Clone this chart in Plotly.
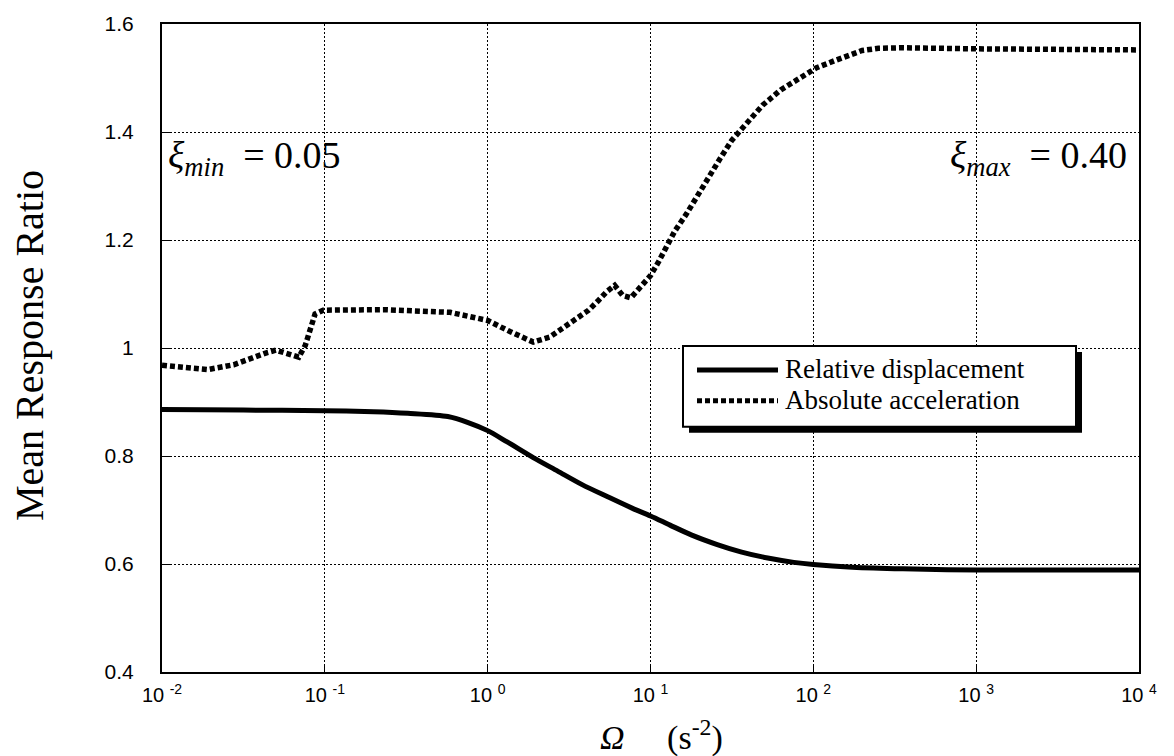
import plotly.graph_objects as go

# ---- data ----
omega_acc = [0.01, 0.01413, 0.01905, 0.02754, 0.03548, 0.04467, 0.05012, 0.06166,
             0.06918, 0.07586, 0.08128, 0.08710, 0.09772, 0.2291, 0.5888, 0.7762,
             1.0, 1.380, 1.905, 2.399, 2.818, 3.548, 4.169, 4.786, 5.370, 6.026,
             6.761, 7.586, 8.710, 10.0, 11.22, 12.59, 14.13, 16.60, 19.50, 22.91,
             26.92, 31.62, 38.90, 48.98, 63.10, 81.28, 104.7, 134.9, 173.8, 199.5,
             251.2, 354.8, 1000.0, 3162.0, 10000.0]
acc_ratio = [0.968, 0.963, 0.960, 0.969, 0.982, 0.992, 0.996, 0.988,
             0.983, 1.005, 1.033, 1.063, 1.070, 1.071, 1.066, 1.057,
             1.051, 1.030, 1.011, 1.020, 1.034, 1.055, 1.070, 1.088, 1.104, 1.116,
             1.097, 1.093, 1.114, 1.134, 1.160, 1.190, 1.217, 1.248, 1.284, 1.318,
             1.352, 1.385, 1.416, 1.450, 1.478, 1.498, 1.519, 1.532, 1.545, 1.551,
             1.555, 1.556, 1.554, 1.553, 1.552]

omega_disp = [0.01, 0.03162, 0.1, 0.1995, 0.3236, 0.5689, 0.7586, 1.0, 1.318,
              1.905, 2.692, 3.802, 5.495, 7.762, 10.0, 13.18, 17.78, 25.70, 36.31,
              52.48, 75.86, 100.0, 173.8, 354.8, 1000.0, 10000.0]
disp_ratio = [0.886, 0.885, 0.884, 0.882, 0.879, 0.873, 0.862, 0.847, 0.826,
              0.797, 0.772, 0.747, 0.724, 0.703, 0.689, 0.672, 0.654, 0.636, 0.622,
              0.611, 0.603, 0.599, 0.594, 0.591, 0.589, 0.589]

x_tickvals = [0.01, 0.1, 1, 10, 100, 1000, 10000]
x_ticktext = ["10&nbsp;<sup>-2</sup>", "10&nbsp;<sup>-1</sup>", "10&nbsp;<sup>0</sup>",
              "10&nbsp;<sup>1</sup>", "10&nbsp;<sup>2</sup>", "10&nbsp;<sup>3</sup>",
              "10&nbsp;<sup>4</sup>"]
y_tickvals = [0.4, 0.6, 0.8, 1.0, 1.2, 1.4, 1.6]
y_ticktext = ["0.4", "0.6", "0.8", "1", "1.2", "1.4", "1.6"]

series_names = ["Relative displacement", "Absolute acceleration"]

SERIF = "Liberation Serif, Times New Roman, serif"
SANS = "Liberation Sans, Arial, sans-serif"
ACC_DASH = "5px,3px"

fig = go.Figure()
fig.add_trace(go.Scatter(x=omega_disp, y=disp_ratio, mode="lines", name=series_names[0],
                         line=dict(color="black", width=5, shape="spline", smoothing=0.8)))
fig.add_trace(go.Scatter(x=omega_acc, y=acc_ratio, mode="lines", name=series_names[1],
                         line=dict(color="black", width=5.5, dash=ACC_DASH)))

W, H = 1174, 756
L, R, T, B = 162, 35, 22, 84
pw, ph = W - L - R, H - T - B

def px_x(p):
    return (p - L) / pw

def px_y(p):
    return (H - B - p) / ph

# legend box geometry (pixels)
LX0, LX1, LY0, LY1 = 683, 1076, 345, 426
SH = 6
ROW1, ROW2 = 368, 399

shapes = [
    dict(type="rect", xref="paper", yref="paper",
         x0=px_x(LX0 + SH), x1=px_x(LX1 + SH), y0=px_y(LY1 + SH), y1=px_y(LY0 + SH),
         fillcolor="black", line=dict(width=0), layer="above"),
    dict(type="rect", xref="paper", yref="paper",
         x0=px_x(LX0), x1=px_x(LX1), y0=px_y(LY1), y1=px_y(LY0),
         fillcolor="white", line=dict(color="black", width=2), layer="above"),
    dict(type="line", xref="paper", yref="paper",
         x0=px_x(697), x1=px_x(778), y0=px_y(ROW1 + 1), y1=px_y(ROW1 + 1),
         line=dict(color="black", width=5), layer="above"),
    dict(type="line", xref="paper", yref="paper",
         x0=px_x(697), x1=px_x(778), y0=px_y(ROW2 + 1), y1=px_y(ROW2 + 1),
         line=dict(color="black", width=5, dash=ACC_DASH), layer="above"),
]

annotations = [
    dict(text=series_names[0], xref="paper", yref="paper",
         x=px_x(783), y=px_y(ROW1), showarrow=False, xanchor="left", yanchor="middle",
         font=dict(family=SERIF, size=27, color="black")),
    dict(text=series_names[1], xref="paper", yref="paper",
         x=px_x(783), y=px_y(ROW2), showarrow=False, xanchor="left", yanchor="middle",
         font=dict(family=SERIF, size=27, color="black")),
    dict(text="Mean Response Ratio", xref="paper", yref="paper",
         x=px_x(29), y=px_y(345), textangle=-90, showarrow=False,
         xanchor="center", yanchor="middle",
         font=dict(family=SERIF, size=40, color="black")),
    dict(text="<i>Ω</i>&nbsp;&nbsp;&nbsp;&nbsp;&nbsp;(s<sup>-2</sup>)", xref="paper", yref="paper",
         x=px_x(661), y=px_y(736), showarrow=False,
         xanchor="center", yanchor="middle",
         font=dict(family=SERIF, size=34, color="black")),
    dict(text="<i>ξ</i><sub><i>min</i></sub>&nbsp;&nbsp;= 0.05", xref="paper", yref="paper",
         x=px_x(166), y=px_y(156), showarrow=False,
         xanchor="left", yanchor="middle",
         font=dict(family=SERIF, size=38, color="black")),
    dict(text="<i>ξ</i><sub><i>max</i></sub>&nbsp;&nbsp;= 0.40", xref="paper", yref="paper",
         x=px_x(1129), y=px_y(156), showarrow=False,
         xanchor="right", yanchor="middle",
         font=dict(family=SERIF, size=38, color="black")),
]

fig.update_layout(
    width=W, height=H,
    margin=dict(l=L, r=R, t=T, b=B),
    paper_bgcolor="white", plot_bgcolor="white",
    showlegend=False,
    xaxis=dict(type="log", range=[-2, 4], tickvals=x_tickvals, ticktext=x_ticktext,
               showgrid=True, gridcolor="black", gridwidth=1, griddash="2px,2px",
               showline=True, linecolor="black", linewidth=2, mirror=True,
               ticks="inside", ticklen=8, tickcolor="black",
               tickfont=dict(family=SANS, size=20, color="black"),
               ticklabelstandoff=4, zeroline=False),
    yaxis=dict(range=[0.4, 1.6], tickvals=y_tickvals, ticktext=y_ticktext,
               showgrid=True, gridcolor="black", gridwidth=1, griddash="2px,2px",
               showline=True, linecolor="black", linewidth=2, mirror=True,
               ticks="inside", ticklen=8, tickcolor="black",
               tickfont=dict(family=SANS, size=21, color="black"),
               ticklabelstandoff=22, zeroline=False),
    shapes=shapes,
    annotations=annotations,
)

fig.write_html("out.html", config={"displayModeBar": False},
               post_script="document.body.style.margin='0';document.body.style.overflow='hidden';")
